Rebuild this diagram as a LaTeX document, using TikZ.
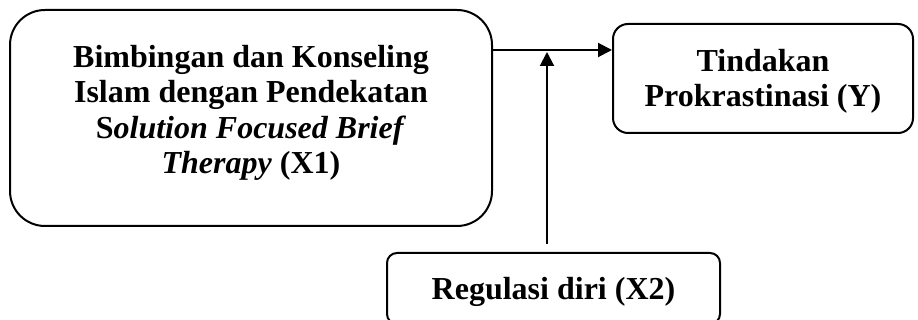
\documentclass[tikz,border=0pt]{standalone}
\usepackage{fontspec}
\setmainfont{Liberation Serif}
\usetikzlibrary{arrows.meta,calc}
\begin{document}
\begin{tikzpicture}[x=1pt,y=-1pt,
  line width=2pt,
  boxstyle/.style={draw,line width=2pt,inner sep=0pt},
  txt/.style={align=center,inner sep=0pt,font=\fontsize{32}{35.5}\selectfont\bfseries},
  arr/.style={-{Triangle[length=14pt,width=14pt]},line width=2pt}]
\useasboundingbox (0,0) rectangle (918,320);
\node[boxstyle,rounded corners=35pt,minimum width=482pt,minimum height=216pt,
  label={[txt,yshift=5pt]center:Bimbingan dan Konseling\\Islam dengan Pendekatan\\S\textit{olution Focused Brief}\\\textit{Therapy} (X1)}]
  (x1) at (251,118) {};
\node[boxstyle,rounded corners=15pt,minimum width=300pt,minimum height=109pt,
  label={[txt,yshift=-3pt]center:Tindakan\\Prokrastinasi (Y)}]
  (y) at (763,78.5) {};
\node[boxstyle,txt,rounded corners=10pt,minimum width=333pt,minimum height=71pt,
  text depth=0pt]
  (x2) at (553.5,288.5) {\raisebox{1pt}{Regulasi diri (X2)}};
\coordinate (h) at (0,50);
\coordinate (m) at (547,52);
\draw[arr] (x1.east |- h) -- (y.west |- h);
\draw[arr] ($(m |- x2.north)+(0,-8)$) -- (m);
\end{tikzpicture}
\end{document}
